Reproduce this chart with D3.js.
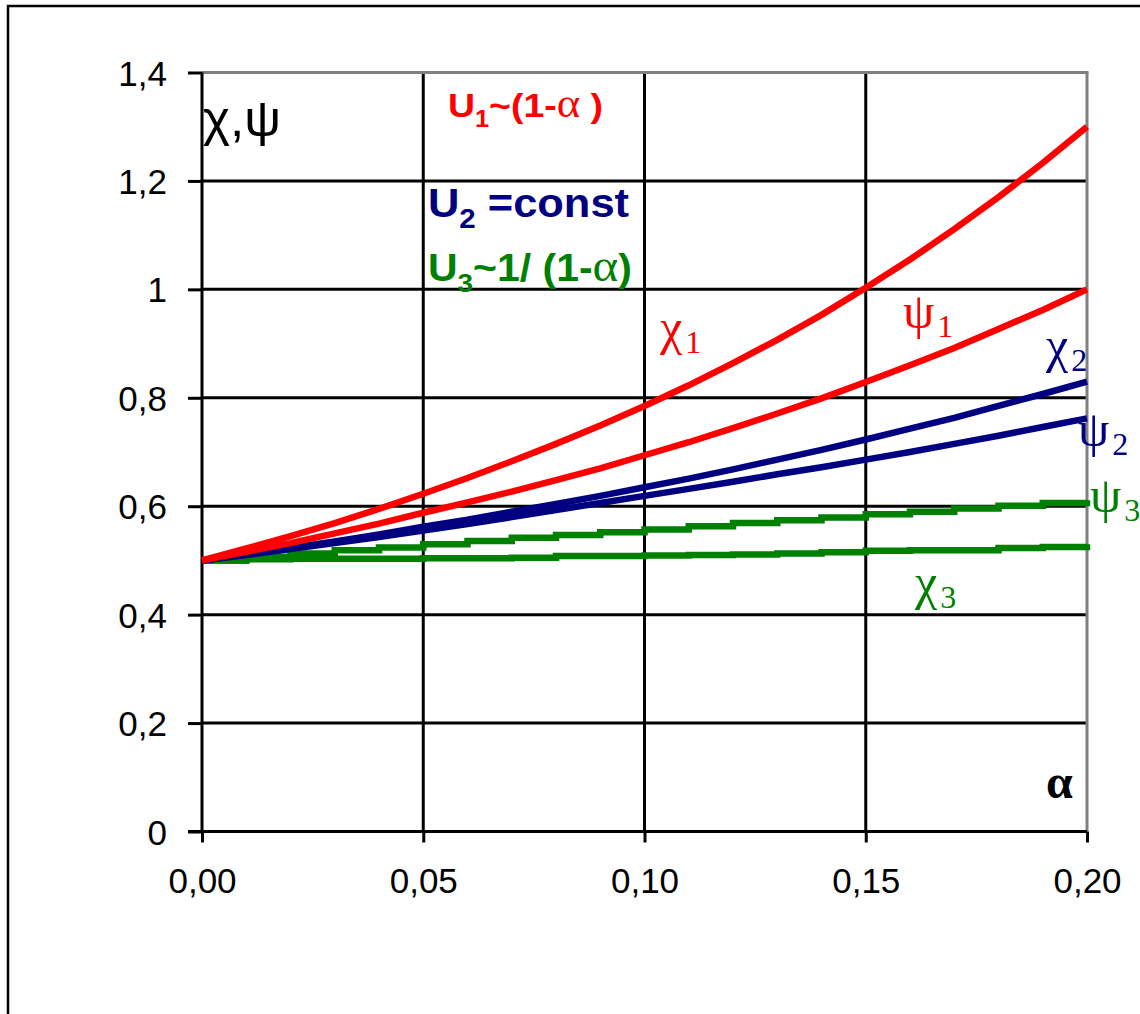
<!DOCTYPE html>
<html><head><meta charset="utf-8">
<script src="https://cdn.jsdelivr.net/npm/d3@7"></script>
<style>html,body{margin:0;padding:0;background:#fff;}</style>
</head><body>
<svg id="c" width="1140" height="1014"></svg>
<script>
const alphas = [0,0.01,0.02,0.03,0.04,0.05,0.06,0.07,0.08,0.09,0.10,0.11,0.12,0.13,0.14,0.15,0.16,0.17,0.18,0.19,0.20];
const chi1 = [0.500,0.522,0.545,0.569,0.595,0.623,0.652,0.683,0.715,0.749,0.785,0.823,0.864,0.907,0.953,1.003,1.055,1.111,1.170,1.233,1.300];
const psi1 = [0.500,0.516,0.532,0.550,0.568,0.588,0.607,0.627,0.648,0.670,0.694,0.718,0.744,0.771,0.799,0.829,0.860,0.892,0.927,0.962,1.000];
const chi2 = [0.500,0.511,0.523,0.535,0.548,0.562,0.575,0.590,0.604,0.619,0.635,0.651,0.668,0.686,0.704,0.723,0.743,0.763,0.785,0.807,0.830];
const psi2 = [0.500,0.510,0.521,0.532,0.543,0.555,0.567,0.580,0.593,0.606,0.619,0.632,0.645,0.659,0.672,0.686,0.700,0.715,0.730,0.746,0.762];
const psi3 = [0.500,0.507,0.513,0.519,0.524,0.530,0.536,0.542,0.547,0.552,0.557,0.563,0.569,0.574,0.579,0.585,0.590,0.596,0.601,0.606,0.611];
const chi3 = [0.500,0.502,0.503,0.503,0.503,0.504,0.504,0.505,0.508,0.508,0.509,0.510,0.511,0.513,0.515,0.518,0.519,0.519,0.523,0.525,0.530];
const yTicks = [0,0.2,0.4,0.6,0.8,1.0,1.2,1.4];
const yTickLabels = ["0","0,2","0,4","0,6","0,8","1","1,2","1,4"];
const xTicks = [0,0.05,0.10,0.15,0.20];
const xTickLabels = ["0,00","0,05","0,10","0,15","0,20"];

const svg = d3.select("#c");
const x = d3.scaleLinear().domain([0,0.2]).range([202,1087]);
const y = d3.scaleLinear().domain([0,1.4]).range([831.5,72.5]);

// outer frame
svg.append("rect").attr("x",8).attr("y",6).attr("width",1160).attr("height",1040)
  .attr("fill","none").attr("stroke","#000").attr("stroke-width",2.5);

// horizontal gridlines
svg.append("g").selectAll("line").data(yTicks.filter(v=>v>0 && v<1.4)).join("line")
  .attr("x1",x(0)).attr("x2",x(0.2)).attr("y1",d=>y(d)).attr("y2",d=>y(d))
  .attr("stroke","#000").attr("stroke-width",3);
// vertical gridlines
svg.append("g").selectAll("line").data(xTicks.filter(v=>v>0 && v<0.2)).join("line")
  .attr("x1",d=>x(d)).attr("x2",d=>x(d)).attr("y1",y(1.4)).attr("y2",y(0))
  .attr("stroke","#000").attr("stroke-width",3);
// plot border top/right (gray)
svg.append("line").attr("x1",x(0)).attr("x2",x(0.2)+1.5).attr("y1",y(1.4)).attr("y2",y(1.4)).attr("stroke","#808080").attr("stroke-width",3);
svg.append("line").attr("x1",x(0.2)).attr("x2",x(0.2)).attr("y1",y(1.4)).attr("y2",y(0)).attr("stroke","#808080").attr("stroke-width",3);

// axes
const yAxis = d3.axisLeft(y).tickValues(yTicks).tickSize(14).tickPadding(21)
  .tickFormat((d,i)=>yTickLabels[i]);
const gy = svg.append("g").attr("transform",`translate(${x(0)},0)`).call(yAxis);
gy.select(".domain").attr("stroke","#000").attr("stroke-width",3).attr("d",`M0,${y(1.4)}V${y(0)}`);
gy.selectAll(".tick line").attr("stroke","#000").attr("stroke-width",3);
gy.selectAll(".tick text").attr("font-family","'Liberation Sans',Arial,sans-serif")
  .attr("font-size",35).attr("fill","#000").attr("dy","0.36em");

const xAxis = d3.axisBottom(x).tickValues(xTicks).tickSize(11).tickPadding(26)
  .tickFormat((d,i)=>xTickLabels[i]);
const gx = svg.append("g").attr("transform",`translate(0,${y(0)})`).call(xAxis);
gx.select(".domain").attr("stroke","#000").attr("stroke-width",3).attr("d",`M${x(0)-14},0H${x(0.2)}`);
gx.selectAll(".tick line").attr("stroke","#000").attr("stroke-width",3);
gx.selectAll(".tick text").attr("font-family","'Liberation Sans',Arial,sans-serif")
  .attr("font-size",35).attr("fill","#000");

// curves
const series = [
  {v:chi3,c:"#008000",curve:d3.curveStepAfter},
  {v:psi3,c:"#008000",curve:d3.curveStepAfter},
  {v:psi2,c:"#000080",curve:d3.curveLinear},
  {v:chi2,c:"#000080",curve:d3.curveLinear},
  {v:psi1,c:"#FF0000",curve:d3.curveLinear},
  {v:chi1,c:"#FF0000",curve:d3.curveLinear}
];
series.forEach(s=>{
  const line = d3.line().x((d,i)=>x(alphas[i])).y(d=>y(d)).curve(s.curve);
  svg.append("path").attr("d",line(s.v)).attr("fill","none").attr("stroke",s.c)
    .attr("stroke-width",6.5);
});

// axis titles
svg.append("text").attr("x",203).attr("y",136).attr("font-family","'Liberation Sans',Arial,sans-serif")
  .attr("font-size",50).attr("fill","#000").attr("textLength",78).attr("lengthAdjust","spacingAndGlyphs").text("χ,ψ");
svg.append("text").attr("x",1046).attr("y",798).attr("font-family","'Liberation Serif','Times New Roman',serif")
  .attr("font-weight","bold").attr("font-size",48).attr("fill","#000").text("α");

// legend-like formulas
function formula(xp,yp,size,color,main,sub,pre,alpha,post,len){
  const t = svg.append("text").attr("x",xp).attr("y",yp).attr("font-family","'Liberation Sans',Arial,sans-serif")
    .attr("font-weight","bold").attr("font-size",size).attr("fill",color)
    .attr("textLength",len).attr("lengthAdjust","spacingAndGlyphs");
  t.append("tspan").text(main);
  t.append("tspan").attr("font-size",size*0.68).attr("dy",size*0.28).text(sub);
  t.append("tspan").attr("dy",-size*0.28).text(pre);
  if(alpha){
    t.append("tspan").attr("font-family","'Liberation Serif','Times New Roman',serif")
      .attr("font-weight","normal").attr("font-size",size*1.2).text(alpha);
    t.append("tspan").text(post);
  }
}
formula(448,117,34,"#FF0000","U","1","~(1-","α"," )",155);
formula(428,217,40,"#000080","U","2"," =const","","",201);
formula(428,281,38,"#008000","U","3","~1/ (1-","α",")",204);

// curve labels
const labels = [
  {g:"χ",n:"1",xp:660,yp:353,c:"#FF0000"},
  {g:"ψ",n:"1",xp:903,yp:337,c:"#FF0000"},
  {g:"χ",n:"2",xp:1046,yp:371,c:"#000080"},
  {g:"ψ",n:"2",xp:1078,yp:455,c:"#000080"},
  {g:"ψ",n:"3",xp:1090,yp:521,c:"#008000"},
  {g:"χ",n:"3",xp:915,yp:608,c:"#008000"}
];
labels.forEach(l=>{
  const t = svg.append("text").attr("x",l.xp).attr("y",l.yp)
    .attr("font-family","'Liberation Serif','Times New Roman',serif").attr("fill",l.c);
  t.append("tspan").attr("font-size",50).attr("dy",-9).text(l.g);
  t.append("tspan").attr("font-size",32).attr("dx",3).attr("dy",9).text(l.n);
});
</script>
</body></html>
